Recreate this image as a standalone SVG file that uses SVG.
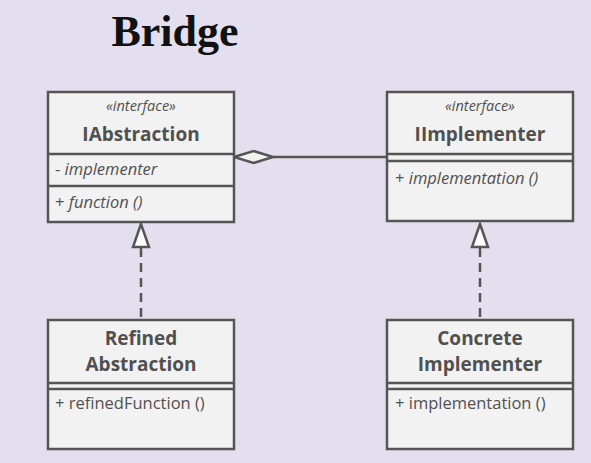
<svg xmlns="http://www.w3.org/2000/svg" width="591" height="463" viewBox="0 0 591 463">
<style>
.box{fill:#f2f2f2;stroke:#555;stroke-width:2.5}
.sep{stroke:#555;stroke-width:2.5}
.t{font-family:"Open Sans","Noto Sans",sans-serif;fill:#505050}
.st{font-size:14.5px;font-style:italic;text-anchor:middle}
.nm{font-size:19px;font-weight:bold;text-anchor:middle}
.mb{font-size:16.5px}
.it{font-style:italic}
.conn{stroke:#555;stroke-width:2.5;fill:none}
.head{stroke:#555;stroke-width:2.5;fill:#fff}
</style>
<rect x="0" y="0" width="591" height="463" fill="#e3dfee"/>
<text x="175" y="46" font-family="Liberation Serif,serif" font-weight="bold" font-size="44" text-anchor="middle" fill="#111">Bridge</text>
<g id="connectors">
<line class="conn" x1="273" y1="157" x2="387" y2="157"/>
<polygon class="head" points="234,157 253.5,151 273,157 253.5,163" style="fill:#f2f2f2"/>
<line class="conn" x1="141" y1="248" x2="141" y2="320" stroke-dasharray="9,6"/>
<polygon class="head" points="141,224 133,247 149,247"/>
<line class="conn" x1="480" y1="248" x2="480" y2="320" stroke-dasharray="9,6"/>
<polygon class="head" points="480,224 472,247 488,247"/>
</g>
<g id="IAbstraction">
<rect class="box" x="48" y="92" width="186" height="130"/>
<line class="sep" x1="48" y1="154" x2="234" y2="154"/>
<line class="sep" x1="48" y1="186" x2="234" y2="186"/>
<text class="t st" x="141" y="111">«interface»</text>
<text class="t nm" x="141" y="141">IAbstraction</text>
<text class="t mb" x="55" y="175">- <tspan class="it">implementer</tspan></text>
<text class="t mb" x="55" y="208">+ <tspan class="it">function ()</tspan></text>
</g>
<g id="IImplementer">
<rect class="box" x="387" y="92" width="186" height="129"/>
<line class="sep" x1="387" y1="154" x2="573" y2="154"/>
<line class="sep" x1="387" y1="161" x2="573" y2="161"/>
<text class="t st" x="480" y="111">«interface»</text>
<text class="t nm" x="480" y="141">IImplementer</text>
<text class="t mb" x="395" y="184">+ <tspan class="it">implementation ()</tspan></text>
</g>
<g id="RefinedAbstraction">
<rect class="box" x="48" y="320" width="186" height="129"/>
<line class="sep" x1="48" y1="383" x2="234" y2="383"/>
<line class="sep" x1="48" y1="389" x2="234" y2="389"/>
<text class="t nm" x="141" y="345">Refined</text>
<text class="t nm" x="141" y="371">Abstraction</text>
<text class="t mb" x="55" y="409">+ refinedFunction ()</text>
</g>
<g id="ConcreteImplementer">
<rect class="box" x="387" y="320" width="186" height="129"/>
<line class="sep" x1="387" y1="383" x2="573" y2="383"/>
<line class="sep" x1="387" y1="389" x2="573" y2="389"/>
<text class="t nm" x="480" y="345">Concrete</text>
<text class="t nm" x="480" y="371">Implementer</text>
<text class="t mb" x="395" y="409">+ implementation ()</text>
</g>
</svg>
